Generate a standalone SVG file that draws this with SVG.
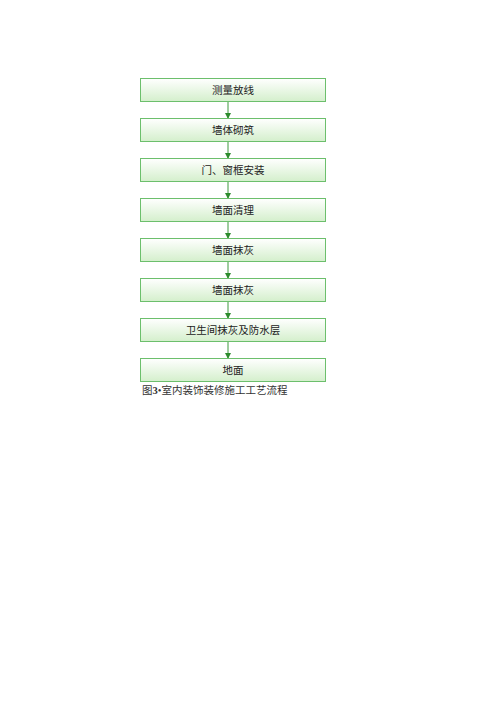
<svg xmlns="http://www.w3.org/2000/svg" width="500" height="712" viewBox="0 0 500 712">
<defs>
<linearGradient id="g" x1="0" y1="0" x2="0" y2="1">
<stop offset="0" stop-color="#ffffff"/>
<stop offset="1" stop-color="#d4efcc"/>
</linearGradient>
<marker id="ah" markerWidth="6" markerHeight="6" refX="5" refY="3" orient="auto" markerUnits="userSpaceOnUse">
<path d="M0,0 L6,3 L0,6 z" fill="#2e8b2e"/>
</marker>
<style>
.box{fill:url(#g);stroke:#6cbf6c;stroke-width:1}
.t{font-family:"Liberation Serif","Noto Sans CJK SC",serif;font-size:10.5px;fill:#222;text-anchor:middle}
.c{stroke:#3d9a3d;stroke-width:1;fill:none;marker-end:url(#ah)}
.cap{font-family:"Liberation Serif","Noto Sans CJK SC",serif;font-size:10.5px;fill:#333}
</style>
</defs>
<rect width="500" height="712" fill="#ffffff"/>
<g id="connectors">
<line class="c" x1="228" y1="101.5" x2="228" y2="118"/>
<line class="c" x1="228" y1="141.5" x2="228" y2="158"/>
<line class="c" x1="228" y1="181.5" x2="228" y2="198"/>
<line class="c" x1="228" y1="221.5" x2="228" y2="238"/>
<line class="c" x1="228" y1="261.5" x2="228" y2="278"/>
<line class="c" x1="228" y1="301.5" x2="228" y2="318"/>
<line class="c" x1="228" y1="341.5" x2="228" y2="358"/>
</g>
<g id="n1"><rect class="box" x="140.5" y="78.5" width="185" height="23"/><text class="t" x="233" y="93.5">测量放线</text></g>
<g id="n2"><rect class="box" x="140.5" y="118.5" width="185" height="23"/><text class="t" x="233" y="133.5">墙体砌筑</text></g>
<g id="n3"><rect class="box" x="140.5" y="158.5" width="185" height="23"/><text class="t" x="233" y="173.5">门、窗框安装</text></g>
<g id="n4"><rect class="box" x="140.5" y="198.5" width="185" height="23"/><text class="t" x="233" y="213.5">墙面清理</text></g>
<g id="n5"><rect class="box" x="140.5" y="238.5" width="185" height="23"/><text class="t" x="233" y="253.5">墙面抹灰</text></g>
<g id="n6"><rect class="box" x="140.5" y="278.5" width="185" height="23"/><text class="t" x="233" y="293.5">墙面抹灰</text></g>
<g id="n7"><rect class="box" x="140.5" y="318.5" width="185" height="23"/><text class="t" x="233" y="333.5">卫生间抹灰及防水层</text></g>
<g id="n8"><rect class="box" x="140.5" y="358.5" width="185" height="23"/><text class="t" x="233" y="373.5">地面</text></g>
<text id="caption" class="cap" x="142" y="393.5">图<tspan font-weight="bold">3</tspan>•室内装饰装修施工工艺流程</text>
</svg>
